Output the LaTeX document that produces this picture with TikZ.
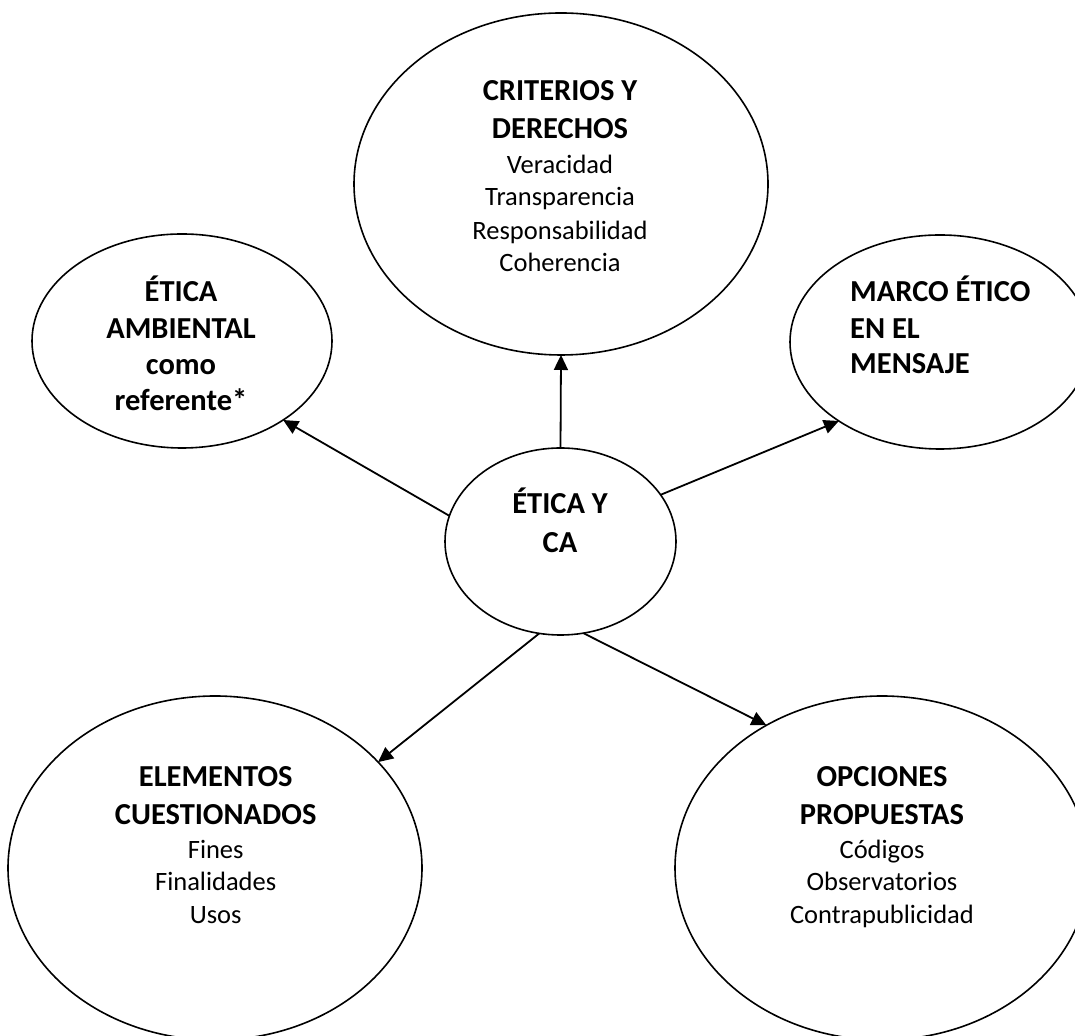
\documentclass[tikz,border=0pt]{standalone}
\usepackage{fontspec}
\setmainfont{Carlito}
\usetikzlibrary{arrows.meta,shapes.geometric}
\begin{document}
\begin{tikzpicture}[x=1pt,y=1pt,
  bubble/.style={draw, ellipse, line width=1.6pt, inner sep=0pt, outer sep=0pt},
  head/.style={anchor=base, inner sep=0pt, font=\fontsize{30.5}{36}\selectfont\bfseries},
  headleft/.style={head, anchor=base west},
  item/.style={anchor=base, inner sep=0pt, font=\fontsize{26.5}{32}\selectfont},
  link/.style={line width=1.8pt, -{Triangle[length=15pt,width=14pt]}}]
\useasboundingbox (0,0) rectangle (1075,1035);
\clip (0,0) rectangle (1075,1035);

% ellipses
\node[bubble, minimum width=414pt, minimum height=342pt] (crit) at (561,851) {};
\node[bubble, minimum width=300pt, minimum height=214pt] (amb) at (182,694) {};
\node[bubble, minimum width=300pt, minimum height=214pt] (marco) at (940,693) {};
\node[bubble, minimum width=231pt, minimum height=187pt] (etica) at (560.5,493.5) {};
\node[bubble, minimum width=414pt, minimum height=344pt] (elem) at (215,167) {};
\node[bubble, minimum width=414pt, minimum height=344pt] (opc) at (882,167) {};

% connectors
\draw[link] (etica.90) -- (crit.-90);
\draw[link] (etica.167.7) -- (amb.-38.5);
\draw[link] (etica.25.2) -- (marco.218);
\draw[link] (etica.-103.4) -- (elem.33.7);
\draw[link] (etica.-76.6) -- (opc.129.6);

% texts: criterios y derechos
\node[head] (c1) at (560,934.3) {CRITERIOS Y};
\node[head] (c2) at (560,896.7) {DERECHOS};
\node[item] (c3) at (560,861.7) {Veracidad};
\node[item] (c4) at (560,829) {Transparencia};
\node[item] (c5) at (560,795.7) {Responsabilidad};
\node[item] (c6) at (560,763.3) {Coherencia};

% etica ambiental
\node[head] (a1) at (181,733.3) {ÉTICA};
\node[head] (a2) at (181,696) {AMBIENTAL};
\node[head] (a3) at (181,660) {como};
\node[head] (a4) at (181,624.3) {referente*};

% marco etico
\node[headleft] (m1) at (850,733.3) {MARCO ÉTICO};
\node[headleft] (m2) at (850,696.7) {EN EL};
\node[headleft] (m3) at (850,661) {MENSAJE};

% centre
\node[head] (e1) at (560,521.7) {ÉTICA Y};
\node[head] (e2) at (560,482.3) {CA};

% elementos cuestionados
\node[head] (q1) at (215.7,248.3) {ELEMENTOS};
\node[head] (q2) at (215.7,210) {CUESTIONADOS};
\node[item] (q3) at (215.7,176.7) {Fines};
\node[item] (q4) at (215.7,144) {Finalidades};
\node[item] (q5) at (215.7,111) {Usos};

% opciones propuestas
\node[head] (o1) at (882,248.3) {OPCIONES};
\node[head] (o2) at (882,210) {PROPUESTAS};
\node[item] (o3) at (882,176.7) {Códigos};
\node[item] (o4) at (882,144) {Observatorios};
\node[item] (o5) at (882,111) {Contrapublicidad};
\end{tikzpicture}
\end{document}
